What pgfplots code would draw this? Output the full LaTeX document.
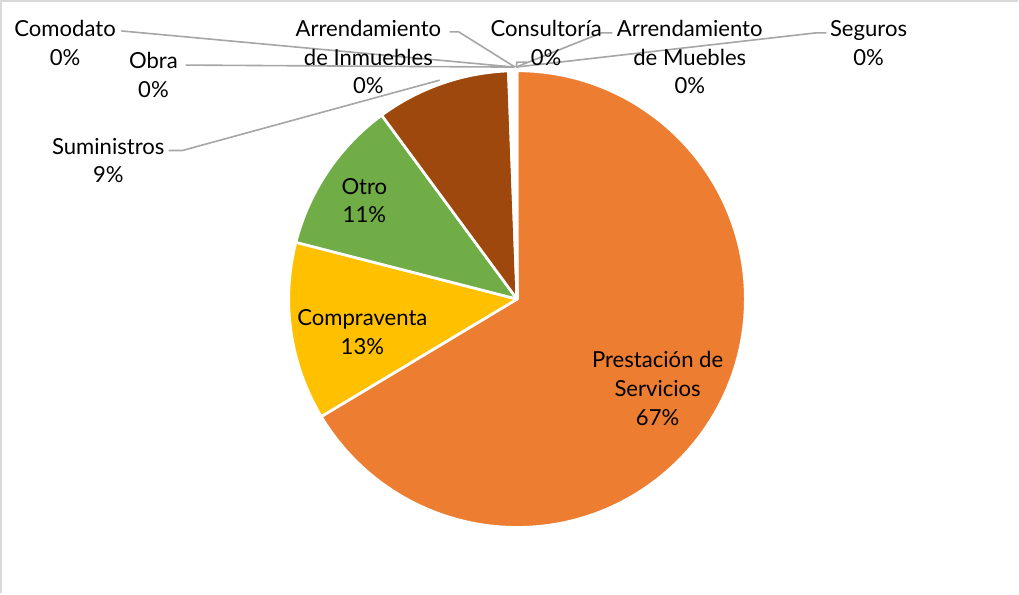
\documentclass[border=0pt]{standalone}
\usepackage{pgfplots}
\pgfplotsset{compat=1.18}
\usepackage{fontspec}
\setmainfont{Lato}

\definecolor{cPrest}{HTML}{ED7D31}
\definecolor{cCompra}{HTML}{FFC000}
\definecolor{cOtro}{HTML}{70AD47}
\definecolor{cSumin}{HTML}{9E480E}
\definecolor{cObra}{HTML}{997300}
\definecolor{cComo}{HTML}{43682B}
\definecolor{cInm}{HTML}{264478}
\definecolor{cCons}{HTML}{636363}
\definecolor{cMue}{HTML}{F1975A}
\definecolor{cSeg}{HTML}{FFCD33}
\definecolor{leader}{HTML}{A6A6A6}
\definecolor{frame}{HTML}{D9D9D9}

\tikzset{lbl/.style={font=\fontsize{16.5}{21.5}\selectfont, align=center, inner sep=0pt, text=black}}

\begin{document}
\begin{tikzpicture}
\begin{axis}[
  scale only axis, width=764.25pt, height=446.25pt,
  xmin=0, xmax=1019, ymin=0, ymax=595, y dir=reverse,
  hide axis, clip=false,
]
% frame (top and left only visible)
\draw[frame, line width=1.2pt] (axis cs:6,595) -- (axis cs:6,5) -- (axis cs:1019,5);

% pie: shares in percent, clockwise from 12 o'clock
\pgfplotsextra{
  \coordinate (C) at (axis cs:520,302);
  \def\r{170.5pt}
  \gdef\ang{90}
  \foreach \v/\c in {66.4/cPrest, 12.6/cCompra, 10.9/cOtro, 9.5/cSumin,
                     0.2/cObra, 0.1/cComo, 0.1/cInm, 0.1/cCons, 0.05/cMue, 0.05/cSeg}{
    \pgfmathsetmacro\e{\ang-3.6*\v}
    \filldraw[fill=\c, draw=white, line width=2pt, line join=round]
      (C) -- ++(\ang:\r) arc[start angle=\ang, end angle=\e, radius=\r] -- cycle;
    \xdef\ang{\e}
  }
}

% leader lines
\begin{scope}[leader, line width=1.2pt]
\draw (axis cs:126,35) -- (axis cs:517,71);
\draw (axis cs:190,69) -- (axis cs:517,71);
\draw (axis cs:453,36) -- (axis cs:462,36) -- (axis cs:518,71);
\draw (axis cs:615,37) -- (axis cs:604,37) -- (axis cs:519,71);
\draw (axis cs:519,71) -- (axis cs:520,66) -- (axis cs:530,66);
\draw (axis cs:828,37) -- (axis cs:817,37) -- (axis cs:519,71);
\draw (axis cs:173,154) -- (axis cs:187,154) -- (axis cs:443,84);
\end{scope}

% labels
\node[lbl] at (axis cs:70,47) {Comodato\\0\%};
\node[lbl] at (axis cs:158,79) {Obra\\0\%};
\node[lbl] at (axis cs:372,61) {Arrendamiento\\de Inmuebles\\0\%};
\node[lbl] at (axis cs:549,47) {Consultoría\\0\%};
\node[lbl] at (axis cs:692,61) {Arrendamiento\\de Muebles\\0\%};
\node[lbl] at (axis cs:870,47) {Seguros\\0\%};
\node[lbl] at (axis cs:113,164) {Suministros\\9\%};
\node[lbl] at (axis cs:368,204) {Otro\\11\%};
\node[lbl] at (axis cs:366,335) {Compraventa\\13\%};
\node[lbl] at (axis cs:660,391) {Prestación de\\Servicios\\67\%};
\end{axis}
\end{tikzpicture}
\end{document}
